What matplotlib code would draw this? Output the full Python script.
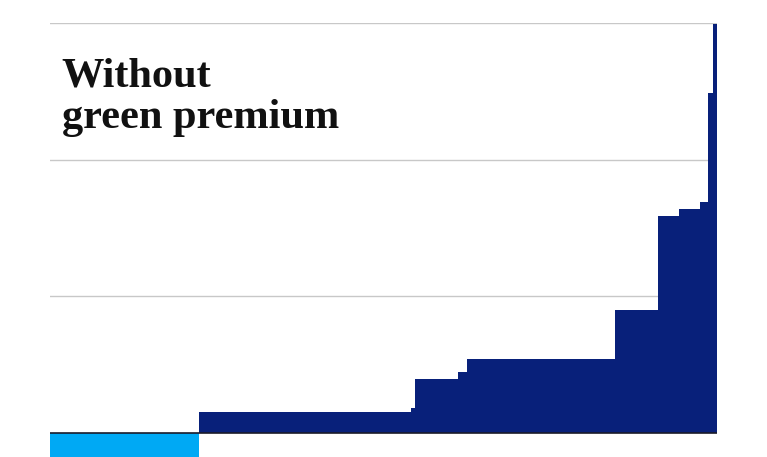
import matplotlib.pyplot as plt
import numpy as np

# bar widths (cumulative abatement) and heights (cost)
widths = [1.49, 2.117, 0.04, 0.433, 0.087, 1.486, 0.424, 0.21, 0.213, 0.077, 0.05, 0.036]
costs = [-0.30, 0.153, 0.18, 0.396, 0.447, 0.545, 0.898, 1.591, 1.637, 1.691, 2.49, 2.99]
grid_levels = [1, 2, 3]
title_lines = ["Without", "green premium"]

navy = "#08207a"
light_blue = "#00a9f4"

fig = plt.figure(figsize=(7.67, 4.57), dpi=100)
ax = fig.add_axes([50 / 767, 0, 666.5 / 767, 434 / 457])

lefts = np.concatenate([[0], np.cumsum(widths)[:-1]])
colors = [light_blue if c < 0 else navy for c in costs]
ax.bar(lefts, costs, width=widths, align="edge", color=colors,
       linewidth=0, zorder=2)

total = sum(widths)
for g in grid_levels:
    ax.axhline(g, color="#c8c8c8", lw=1.0, zorder=1)
ax.axhline(0, color="#1b1b2a", lw=1.2, zorder=3)

ax.set_xlim(0, total)
ax.set_ylim(-0.175, 3.0)
for s in ax.spines.values():
    s.set_visible(False)
ax.set_xticks([])
ax.set_yticks([])

fig.text(61.5 / 767, (457 - 86.7) / 457, title_lines[0], family="Liberation Serif",
         weight="bold", fontsize=30.5, va="baseline", ha="left", color="#111111")
fig.text(61.5 / 767, (457 - 128) / 457, title_lines[1], family="Liberation Serif",
         weight="bold", fontsize=30.5, va="baseline", ha="left", color="#111111")

fig.savefig("out.png", dpi=100)
